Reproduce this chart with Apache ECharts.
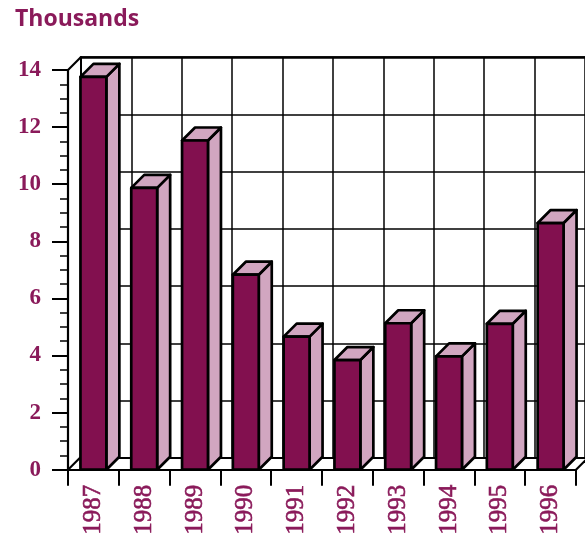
<!DOCTYPE html>
<html>
<head>
<meta charset="utf-8">
<script src="https://cdn.jsdelivr.net/npm/echarts@6/dist/echarts.min.js"></script>
<style>html,body{margin:0;padding:0;background:#fff}#c{width:585px;height:538px}</style>
</head>
<body>
<div id="c"></div>
<script>
const categories = ['1987','1988','1989','1990','1991','1992','1993','1994','1995','1996'];
const values = [13.76, 9.87, 11.53, 6.83, 4.66, 3.84, 5.13, 3.97, 5.11, 8.64];
const yTicks = [0, 2, 4, 6, 8, 10, 12, 14];

const FRONT = '#82104F';
const LIGHT = '#D1A6C0';
const TXT = '#8A1A5A';
const DEPTH = 13;

const chart = echarts.init(document.getElementById('c'), null, {renderer: 'canvas'});

function renderBar(params, api) {
  const i = api.value(0), v = api.value(1);
  const top = api.coord([i, v]);
  const base = api.coord([i, 0]);
  const bw = api.size([1, 0])[0] * 0.51;
  const x0 = top[0] - bw / 2, x1 = top[0] + bw / 2;
  const yt = top[1], yb = base[1];
  const d = DEPTH;
  const st = {stroke: '#000', lineWidth: 2.7, lineJoin: 'round'};
  return {
    type: 'group',
    children: [
      {type: 'polygon', shape: {points: [[x1, yb], [x1 + d, yb - d], [x1 + d, yt - d], [x1, yt]]},
        style: Object.assign({fill: LIGHT}, st)},
      {type: 'polygon', shape: {points: [[x0, yt], [x0 + d, yt - d], [x1 + d, yt - d], [x1, yt]]},
        style: Object.assign({fill: LIGHT}, st)},
      {type: 'rect', shape: {x: x0, y: yt, width: bw, height: yb - yt},
        style: Object.assign({fill: FRONT}, st)}
    ]
  };
}

function renderFrame(params, api) {
  const n = categories.length;
  const c0 = api.coord([0, 0]);
  const cTop = api.coord([0, yTicks[yTicks.length - 1]]);
  const cw = api.size([1, 0])[0];
  const left = c0[0] - cw / 2;
  const right = left + cw * n;
  const yb = c0[1], yt = cTop[1];
  const d = DEPTH;
  const st = {stroke: '#000', lineWidth: 2.2};
  return {
    type: 'group',
    children: [
      {type: 'line', shape: {x1: left, y1: yt, x2: left + d, y2: yt - d}, style: st},
      {type: 'line', shape: {x1: left, y1: yb, x2: left + d, y2: yb - d}, style: st},
      {type: 'line', shape: {x1: right, y1: yb, x2: right + d, y2: yb - d}, style: st}
    ]
  };
}

const gridFront = {left: 68, top: 70, width: 508, height: 401};
const gridBack = {left: 68 + DEPTH, top: 70 - DEPTH, width: 508, height: 401};

chart.setOption({
  backgroundColor: '#fff',
  animation: false,
  title: {
    text: 'Thousands', left: 10, top: 3,
    textStyle: {fontFamily: 'Open Sans', fontWeight: 'bold', fontSize: 23, color: TXT}
  },
  grid: [gridFront, gridBack],
  xAxis: [
    {
      type: 'category', gridIndex: 0, data: categories,
      axisLine: {show: true, lineStyle: {color: '#000', width: 2.2}},
      axisTick: {show: true, interval: 0, length: 16, lineStyle: {color: '#000', width: 2}},
      axisLabel: {interval: 0, rotate: 90, margin: 15, color: TXT,
        fontFamily: 'Liberation Serif', fontSize: 25,
        textBorderColor: TXT, textBorderWidth: 0.6},
      splitLine: {show: false}
    },
    {
      type: 'category', gridIndex: 1, data: categories,
      axisLine: {show: true, lineStyle: {color: '#000', width: 2}},
      axisTick: {show: false}, axisLabel: {show: false},
      splitLine: {show: true, interval: 0, lineStyle: {color: '#000', width: 1.5}}
    },
    {
      type: 'category', gridIndex: 1, data: categories, position: 'top',
      axisLine: {show: true, lineStyle: {color: '#000', width: 2.7}},
      axisTick: {show: false}, axisLabel: {show: false}, splitLine: {show: false}
    }
  ],
  yAxis: [
    {
      type: 'value', gridIndex: 0, min: 0, max: 14, interval: 2,
      axisLine: {show: true, lineStyle: {color: '#000', width: 2.2}},
      axisTick: {show: true, length: 16, lineStyle: {color: '#000', width: 2}},
      minorTick: {show: true, splitNumber: 4, length: 8, lineStyle: {color: '#000', width: 1.5}},
      axisLabel: {margin: 27, color: TXT, fontFamily: 'Liberation Serif', fontWeight: 'bold', fontSize: 23},
      splitLine: {show: false}
    },
    {
      type: 'value', gridIndex: 1, min: 0, max: 14, interval: 2,
      axisLine: {show: true, lineStyle: {color: '#000', width: 2}},
      axisTick: {show: false}, axisLabel: {show: false},
      splitLine: {show: true, lineStyle: {color: '#000', width: 1.5}}
    }
  ],
  series: [
    {
      type: 'custom', name: 'frame', xAxisIndex: 0, yAxisIndex: 0,
      renderItem: renderFrame, data: [[0, 0]], clip: false, z: 1, silent: true
    },
    {
      type: 'custom', name: 'Thousands', xAxisIndex: 0, yAxisIndex: 0,
      renderItem: renderBar,
      encode: {x: 0, y: 1},
      data: values.map((v, i) => [i, v]),
      clip: false, z: 3
    }
  ]
});
</script>
</body>
</html>
